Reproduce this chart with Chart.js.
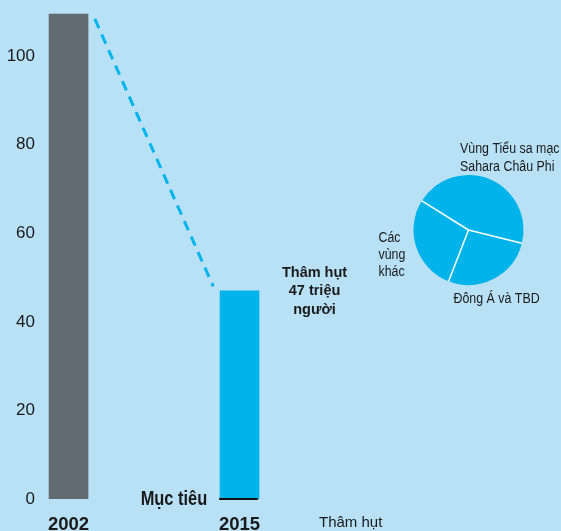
<!DOCTYPE html>
<html>
<head>
<meta charset="utf-8">
<script src="https://cdn.jsdelivr.net/npm/chart.js@4.4.1/dist/chart.umd.min.js"></script>
<style>
  body { margin: 0; background: #b8e1f6; }
  #wrap { position: relative; width: 561px; height: 531px; }
  #pie { position: absolute; left: 370px; top: 130px; }
</style>
</head>
<body>
<div id="wrap">
  <canvas id="main" width="561" height="531"></canvas>
  <canvas id="pie" width="191" height="180"></canvas>
</div>
<script>
// số người thiếu đói (triệu)
const years = [2002, 2015];
const hungry = [109.5, 47];
const barColors = ['#636b72', '#00b4eb'];
const trendYears = [2004, 2013];
const trendValues = [108.4, 48];
const targetYears = [2013.45, 2016.4];
const targetValues = [0, 0];
const yTicks = [0, 20, 40, 60, 80, 100];
const xTickValues = [2002, 2015, 2023.45];
const xTickLabels = ['2002', '2015', 'Thâm hụt'];
const gapLines = ['Thâm hụt', '47 triệu', 'người'];
const targetLabel = 'Mục tiêu';

// phân bố thâm hụt theo vùng
const pieLabels = [['Vùng Tiểu sa mạc', 'Sahara Châu Phi'], ['Đông Á và TBD'], ['Các', 'vùng', 'khác']];
const pieValues = [45, 27, 28];

const SANS = '"Liberation Sans", Arial, sans-serif';
const INK = '#1a1a1a';
const CYAN = '#00b4eb';

const pts = (xs, ys) => xs.map((v, i) => ({ x: v, y: ys[i] }));

// chữ hẹp: co ngang kiểu Arial Narrow
function narrowText(ctx, t, x, y, sx = 0.82) {
  ctx.save();
  ctx.translate(x, y);
  ctx.scale(sx, 1);
  ctx.fillText(t, 0, 0);
  ctx.restore();
}

const notes = {
  id: 'notes',
  afterDatasetsDraw(chart) {
    const { ctx, scales: { x, y } } = chart;
    const bar = chart.getDatasetMeta(0).data[1];
    ctx.save();
    ctx.fillStyle = INK;
    ctx.font = 'bold 14.5px ' + SANS;
    ctx.textAlign = 'center';
    gapLines.forEach((t, i) => ctx.fillText(t, bar.x + 75, bar.y - 14 + i * 18.5));
    ctx.font = 'bold 20px ' + SANS;
    ctx.textAlign = 'right';
    narrowText(ctx, targetLabel, x.getPixelForValue(targetYears[0]) - 12, y.getPixelForValue(0) + 6);
    ctx.restore();
  }
};

const noPad = s => { s.paddingTop = 0; s.paddingBottom = 0; s.paddingLeft = 0; s.paddingRight = 0; };

new Chart(document.getElementById('main'), {
  type: 'bar',
  data: {
    datasets: [
      { data: pts(years, hungry), backgroundColor: barColors, barThickness: 39, order: 3 },
      { type: 'line', data: pts(trendYears, trendValues), borderColor: CYAN, borderWidth: 3,
        borderDash: [10, 7], pointRadius: 0, order: 2 },
      { type: 'line', data: pts(targetYears, targetValues), borderColor: '#111', borderWidth: 2,
        pointRadius: 0, order: 1, clip: 4 }
    ]
  },
  options: {
    responsive: false,
    animation: false,
    layout: { padding: { top: 3 } },
    plugins: { legend: { display: false }, tooltip: { enabled: false } },
    scales: {
      x: {
        type: 'linear', min: 1999.83, max: 2039.44, offset: false,
        grid: { display: false, drawTicks: false }, border: { display: false },
        afterBuildTicks: s => { s.ticks = xTickValues.map(v => ({ value: v })); },
        afterFit: s => { s.height = 32; noPad(s); },
        ticks: {
          autoSkip: false, maxRotation: 0, padding: 15, color: INK,
          callback: (v, i) => xTickLabels[i],
          font: c => c.index === 2 ? { family: SANS, size: 15 } : { family: SANS, size: 18.5, weight: 'bold' }
        }
      },
      y: {
        min: 0, max: 112,
        grid: { display: false, drawTicks: false }, border: { display: false },
        afterBuildTicks: s => { s.ticks = yTicks.map(v => ({ value: v })); },
        afterFit: s => { s.width = 40; noPad(s); },
        ticks: { padding: 5, color: INK, font: { family: SANS, size: 17 } }
      }
    }
  },
  plugins: [notes]
});

// đường chia lát màu trắng + nhãn các vùng
const pieNotes = {
  id: 'pieNotes',
  afterDatasetsDraw(chart) {
    const { ctx } = chart;
    const arcs = chart.getDatasetMeta(0).data;
    const cx = arcs[0].x, cy = arcs[0].y, r = arcs[0].outerRadius;
    ctx.save();
    ctx.strokeStyle = '#ffffff';
    ctx.lineWidth = 1.5;
    arcs.forEach(a => {
      ctx.beginPath();
      ctx.moveTo(cx, cy);
      ctx.lineTo(cx + r * Math.cos(a.startAngle), cy + r * Math.sin(a.startAngle));
      ctx.stroke();
    });
    const spots = [[-8.5, -77.3, 18], [-15, 73.3, 17], [-90, 11.7, 17]];
    ctx.fillStyle = INK;
    ctx.font = '15.5px ' + SANS;
    ctx.textAlign = 'left';
    pieLabels.forEach((lines, i) => {
      const [dx, dy, lh] = spots[i];
      lines.forEach((t, j) => narrowText(ctx, t, cx + dx, cy + dy + j * lh, 0.8));
    });
    ctx.restore();
  }
};

new Chart(document.getElementById('pie'), {
  type: 'pie',
  data: {
    labels: pieLabels.map(l => l.join(' ')),
    datasets: [{ data: pieValues, backgroundColor: CYAN, borderWidth: 0 }]
  },
  options: {
    responsive: false,
    animation: false,
    rotation: -58,
    layout: { padding: { left: 43, right: 37, top: 45, bottom: 25 } },
    plugins: { legend: { display: false }, tooltip: { enabled: false } }
  },
  plugins: [pieNotes]
});
</script>
</body>
</html>
